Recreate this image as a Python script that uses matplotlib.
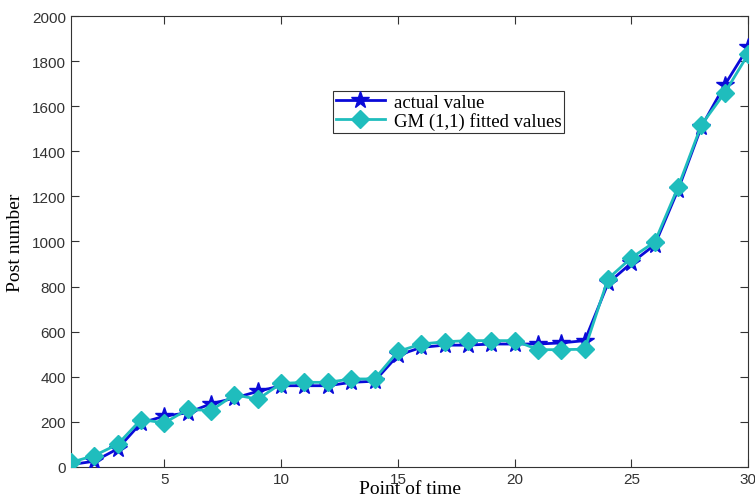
import matplotlib
matplotlib.use("Agg")
import matplotlib.pyplot as plt
import numpy as np

# point of time
t = np.arange(1, 31)

actual = [10, 25, 80, 195, 225, 240, 280, 305, 335, 360,
          360, 360, 375, 380, 495, 530, 540, 540, 545, 545,
          545, 550, 560, 815, 905, 985, 1230, 1510, 1695, 1862]

fitted = [20, 50, 100, 210, 195, 255, 250, 320, 300, 370,
          375, 375, 390, 390, 512, 545, 555, 560, 560, 560,
          520, 520, 522, 835, 928, 998, 1242, 1518, 1660, 1831]

xticks = [5, 10, 15, 20, 25, 30]
yticks = list(range(0, 2001, 200))

BLUE = "#0a0ad8"
CYAN = "#1fbdbd"

fig = plt.figure(figsize=(7.55, 5.02), dpi=100)
ax = fig.add_axes([0.094, 0.068, 0.897, 0.898])

ax.plot(t, actual, color=BLUE, lw=2, marker="*", ms=13, mfc=BLUE, mec=BLUE,
        label="actual value", zorder=3)
ax.plot(t, fitted, color=CYAN, lw=2, marker="D", ms=9, mfc=CYAN, mec=CYAN,
        label="GM (1,1) fitted values", zorder=4)

ax.set_xlim(1, 30)
ax.set_ylim(0, 2000)
ax.set_xticks(xticks)
ax.set_yticks(yticks)
ax.tick_params(direction="in", top=True, right=True, length=6,
               labelsize=11, labelcolor="#333333", color="#333333")
for lab in ax.get_xticklabels() + ax.get_yticklabels():
    lab.set_family("Liberation Sans")
for s in ax.spines.values():
    s.set_color("#333333")

ax.set_xlabel("Point of time", family="Liberation Serif", fontsize=14, labelpad=-4)
ax.set_ylabel("Post number", family="Liberation Serif", fontsize=14, labelpad=6)

leg = ax.legend(loc="upper left", bbox_to_anchor=(0.387, 0.834),
                prop={"family": "Liberation Serif", "size": 13.5},
                frameon=True, fancybox=False, edgecolor="black",
                handlelength=2.6, borderpad=0.15, labelspacing=0.05,
                handletextpad=0.5, borderaxespad=0)
leg.get_frame().set_linewidth(0.8)

fig.savefig("out.png", dpi=100)
